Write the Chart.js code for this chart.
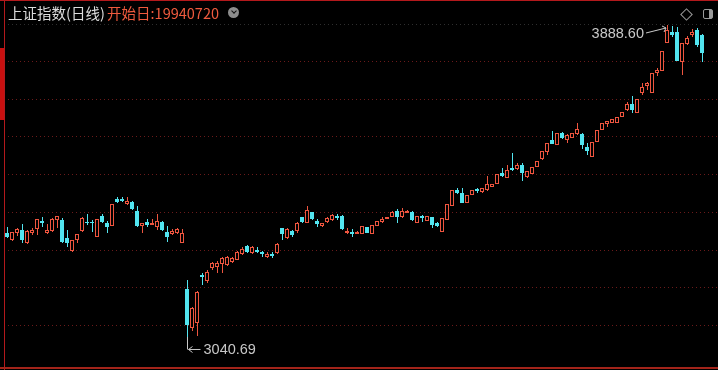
<!DOCTYPE html>
<html>
<head>
<meta charset="utf-8">
<script src="https://cdn.jsdelivr.net/npm/chart.js@4.4.1/dist/chart.umd.min.js"></script>
<style>
  html, body { margin: 0; padding: 0; background: #000; }
  #wrap { position: relative; width: 718px; height: 370px; overflow: hidden; }
  #title { position: absolute; left: 8px; top: 3px; font: 14.5px "Noto Sans CJK SC", sans-serif; line-height: 19px; color: #dcdcdc; white-space: nowrap; }
  #title .start { color: #ef5a3e; margin-left: -1px; }
  #drop { position: absolute; left: 228px; top: 7px; width: 11px; height: 11px; border-radius: 50%; background: #8d8d8d; }
  #drop:after { content: ''; position: absolute; left: 3.5px; top: 2px; width: 3px; height: 3px; border-right: 1.5px solid #111; border-bottom: 1.5px solid #111; transform: rotate(45deg); }
  #diamond { position: absolute; left: 682px; top: 10px; width: 7px; height: 7px; border: 1px solid #9a9a9a; transform: rotate(45deg); }
  #panel { position: absolute; left: 703px; top: 9px; width: 8px; height: 8px; border: 1px solid #9a9a9a; border-radius: 2px; }
  #panel:after { content: ''; position: absolute; right: 0; top: 0; width: 3px; height: 8px; background: #9a9a9a; }
</style>
</head>
<body>
<div id="wrap">
  <canvas id="kline" width="718" height="370"></canvas>
  <div id="title">上证指数(日线) <span class="start">开始日:19940720</span></div>
  <div id="drop"></div>
  <div id="diamond"></div>
  <div id="panel"></div>
</div>
<script>
// daily candles, oldest first
var opens = [
	3323.3, 3304.2, 3323.3, 3331.4, 3296.1, 3323.3, 3334.2, 3355.9, 3323.3, 3328.7,
	3358.6, 3358.6, 3309.7, 3274.3, 3304.2, 3328.7, 3353.2, 3353.2, 3312.4, 3369.5,
	3350.5, 3342.3, 3415.7, 3415.7, 3402.1, 3407.5, 3383.1, 3342.3, 3353.2, 3345.0,
	3339.6, 3353.2, 3326.0, 3320.6, 3323.3, 3296.1, 3171.0, 3064.9, 3078.6, 3209.1,
	3192.8, 3228.1, 3230.8, 3239.0, 3236.3, 3244.4, 3249.9, 3266.2, 3287.9, 3268.9,
	3277.1, 3271.6, 3258.0, 3266.2, 3268.9, 3336.9, 3309.7, 3328.7, 3328.7, 3366.8,
	3350.5, 3380.4, 3355.9, 3342.3, 3353.2, 3358.6, 3369.5, 3369.5, 3323.3, 3326.0,
	3320.6, 3320.6, 3339.6, 3320.6, 3342.3, 3353.2, 3361.3, 3366.8, 3383.1, 3366.8,
	3377.6, 3380.4, 3350.5, 3369.5, 3355.9, 3366.8, 3350.5, 3326.0, 3358.6, 3396.7,
	3440.2, 3432.0, 3404.8, 3426.6, 3442.9, 3434.7, 3440.2, 3448.3, 3456.4, 3486.3,
	3472.7, 3499.9, 3497.2, 3508.1, 3475.4, 3483.6, 3502.6, 3524.4, 3543.4, 3576.0,
	3562.4, 3595.1, 3576.0, 3581.5, 3592.3, 3592.3, 3557.0, 3529.8, 3570.6, 3603.2,
	3619.5, 3622.2, 3622.2, 3638.5, 3657.5, 3673.9, 3649.4, 3703.7, 3722.8, 3703.7,
	3758.1, 3763.5, 3839.6, 3869.5, 3869.5, 3788.0, 3836.9, 3861.4, 3875.0, 3861.4
];
var highs = [
	3339.6, 3326.0, 3336.9, 3347.7, 3331.4, 3336.9, 3361.3, 3366.8, 3347.7, 3364.1,
	3369.5, 3364.1, 3331.4, 3304.2, 3320.6, 3366.8, 3374.9, 3358.6, 3361.3, 3374.9,
	3355.9, 3402.1, 3421.1, 3421.1, 3421.1, 3410.3, 3396.7, 3350.5, 3361.3, 3361.3,
	3374.9, 3355.9, 3342.3, 3334.2, 3336.9, 3334.2, 3195.5, 3122.0, 3165.6, 3214.5,
	3222.7, 3244.4, 3247.2, 3258.0, 3260.7, 3258.0, 3274.3, 3285.2, 3290.7, 3287.9,
	3285.2, 3274.3, 3271.6, 3271.6, 3296.1, 3336.9, 3336.9, 3331.4, 3353.2, 3366.8,
	3396.7, 3380.4, 3361.3, 3350.5, 3366.8, 3374.9, 3374.9, 3372.2, 3336.9, 3334.2,
	3328.7, 3342.3, 3339.6, 3345.0, 3355.9, 3366.8, 3366.8, 3383.1, 3388.5, 3391.2,
	3385.8, 3383.1, 3369.5, 3372.2, 3369.5, 3366.8, 3353.2, 3364.1, 3402.1, 3440.2,
	3445.6, 3445.6, 3426.6, 3440.2, 3445.6, 3445.6, 3478.2, 3456.4, 3483.6, 3499.9,
	3508.1, 3540.7, 3513.5, 3513.5, 3491.8, 3502.6, 3518.9, 3546.1, 3567.9, 3600.5,
	3595.1, 3597.8, 3592.3, 3595.1, 3622.2, 3595.1, 3567.9, 3570.6, 3603.2, 3622.2,
	3627.7, 3633.1, 3638.5, 3652.1, 3679.3, 3695.6, 3687.5, 3730.9, 3733.6, 3758.1,
	3771.7, 3817.9, 3888.60, 3886.0, 3883.1, 3839.6, 3858.7, 3877.7, 3880.4, 3864.1
];
var lows = [
	3309.7, 3301.5, 3315.1, 3296.1, 3293.4, 3317.8, 3317.8, 3339.6, 3320.6, 3326.0,
	3336.9, 3296.1, 3285.2, 3271.6, 3296.1, 3326.0, 3345.0, 3326.0, 3312.4, 3350.5,
	3323.3, 3342.3, 3404.8, 3407.5, 3399.4, 3385.8, 3339.6, 3323.3, 3339.6, 3345.0,
	3331.4, 3328.7, 3298.8, 3317.8, 3320.6, 3296.1, 3040.69, 3056.8, 3043.4, 3181.9,
	3187.4, 3222.7, 3214.5, 3214.5, 3233.6, 3241.7, 3249.9, 3263.5, 3268.9, 3266.2,
	3268.9, 3258.0, 3255.3, 3255.3, 3266.2, 3304.2, 3307.0, 3312.4, 3323.3, 3350.5,
	3350.5, 3358.6, 3339.6, 3339.6, 3350.5, 3355.9, 3358.6, 3331.4, 3320.6, 3312.4,
	3320.6, 3320.6, 3323.3, 3320.6, 3342.3, 3350.5, 3361.3, 3366.8, 3350.5, 3364.1,
	3377.6, 3355.9, 3350.5, 3353.2, 3355.9, 3336.9, 3339.6, 3326.0, 3358.6, 3396.7,
	3429.3, 3404.8, 3404.8, 3426.6, 3432.0, 3432.0, 3437.4, 3448.3, 3456.4, 3475.4,
	3472.7, 3491.8, 3494.5, 3464.6, 3472.7, 3483.6, 3502.6, 3521.7, 3535.2, 3565.2,
	3562.4, 3578.8, 3567.9, 3581.5, 3589.6, 3551.6, 3535.2, 3529.8, 3570.6, 3603.2,
	3611.4, 3622.2, 3622.2, 3638.5, 3654.8, 3649.4, 3649.4, 3698.3, 3711.9, 3703.7,
	3750.0, 3763.5, 3839.6, 3855.9, 3790.7, 3752.7, 3834.2, 3855.9, 3828.8, 3788.0
];
var closes = [
	3312.4, 3326.0, 3334.2, 3304.2, 3328.7, 3331.4, 3361.3, 3350.5, 3331.4, 3361.3,
	3369.5, 3298.8, 3296.1, 3304.2, 3320.6, 3364.1, 3350.5, 3350.5, 3361.3, 3353.2,
	3339.6, 3402.1, 3407.5, 3410.3, 3410.3, 3388.5, 3342.3, 3350.5, 3345.0, 3350.5,
	3355.9, 3331.4, 3312.4, 3328.7, 3334.2, 3323.3, 3073.2, 3119.4, 3162.9, 3203.7,
	3217.3, 3241.7, 3241.7, 3255.3, 3258.0, 3255.3, 3271.6, 3279.8, 3271.6, 3285.2,
	3271.6, 3266.2, 3266.2, 3260.7, 3293.4, 3320.6, 3334.2, 3317.8, 3350.5, 3353.2,
	3385.8, 3361.3, 3347.7, 3350.5, 3364.1, 3372.2, 3364.1, 3334.2, 3328.7, 3320.6,
	3326.0, 3342.3, 3323.3, 3345.0, 3355.9, 3361.3, 3366.8, 3380.4, 3366.8, 3383.1,
	3383.1, 3358.6, 3369.5, 3364.1, 3369.5, 3345.0, 3342.3, 3364.1, 3402.1, 3440.2,
	3432.0, 3404.8, 3426.6, 3440.2, 3437.4, 3445.6, 3456.4, 3456.4, 3483.6, 3478.2,
	3494.5, 3494.5, 3508.1, 3486.3, 3491.8, 3502.6, 3518.9, 3546.1, 3567.9, 3565.2,
	3595.1, 3581.5, 3589.6, 3595.1, 3605.9, 3562.4, 3546.1, 3570.6, 3603.2, 3622.2,
	3627.7, 3633.1, 3638.5, 3652.1, 3673.9, 3657.5, 3687.5, 3720.1, 3730.9, 3758.1,
	3766.3, 3817.9, 3875.0, 3861.4, 3790.7, 3839.6, 3853.2, 3869.5, 3834.2, 3812.5
];

var upColor = '#ee553f';
var downColor = '#52e5f0';
var gridColor = '#6a1a1a';
var frameColor = '#b3191c';
var labelColor = '#c8c8c8';
var yMin = 2970, yMax = 3891.3;

var isUp = function(i) {
	return closes[i] >= opens[i];
};

var bodyData = opens.map(function(o, i) { return { x: i, y: [o, closes[i]] }; });
var wickData = highs.map(function(h, i) { return { x: i, y: [lows[i], h] }; });

// frame lines, half pixel shift for wicks, high/low markers
var klinePlugin = {
	id: 'kline',
	beforeDraw: function(chart) {
		var ctx = chart.ctx;
		ctx.save();
		ctx.fillStyle = '#000';
		ctx.fillRect(0, 0, chart.width, chart.height);
		ctx.restore();
	},
	beforeDatasetDraw: function(chart, args) {
		if (args.index === 1) {
			chart.ctx.save();
			chart.ctx.translate(0.5, 0);
		}
	},
	afterDatasetDraw: function(chart, args) {
		if (args.index === 1) {
			chart.ctx.restore();
		}
	},
	afterDraw: function(chart) {
		var ctx = chart.ctx;
		var xs = chart.scales.x, ys = chart.scales.y;
		ctx.save();
		ctx.fillStyle = frameColor;
		ctx.fillRect(0, 0, chart.width, 1);
		ctx.fillRect(4, 0, 1, chart.height);
		ctx.fillStyle = '#a3241a';
		ctx.fillRect(0, 367, chart.width, 2);
		ctx.fillStyle = '#c81010';
		ctx.fillRect(0, 48, 4, 72);

		ctx.strokeStyle = labelColor;
		ctx.fillStyle = labelColor;
		ctx.lineWidth = 1;
		ctx.font = '14.5px "Liberation Sans", Arial, sans-serif';
		ctx.textBaseline = 'middle';

		var hi = highs.indexOf(Math.max.apply(null, highs));
		var hx = Math.round(xs.getPixelForValue(hi));
		var hy = ys.getPixelForValue(highs[hi]);
		ctx.beginPath();
		ctx.moveTo(hx - 21, hy + 8);
		ctx.lineTo(hx - 1, hy + 3);
		ctx.moveTo(hx - 1, hy + 3);
		ctx.lineTo(hx - 5, hy + 1);
		ctx.moveTo(hx - 1, hy + 3);
		ctx.lineTo(hx - 3, hy + 7);
		ctx.stroke();
		ctx.textAlign = 'right';
		ctx.fillText(highs[hi].toFixed(2), hx - 23, hy + 9);

		var lo = lows.indexOf(Math.min.apply(null, lows));
		var lx = Math.round(xs.getPixelForValue(lo)) + 0.5;
		var ly = ys.getPixelForValue(lows[lo]);
		ctx.beginPath();
		ctx.moveTo(lx, ly);
		ctx.lineTo(lx, ly + 12.5);
		ctx.moveTo(lx + 1, ly + 12.5);
		ctx.lineTo(lx + 13, ly + 12.5);
		ctx.moveTo(lx + 1, ly + 12.5);
		ctx.lineTo(lx + 5, ly + 9.5);
		ctx.moveTo(lx + 1, ly + 12.5);
		ctx.lineTo(lx + 5, ly + 15.5);
		ctx.stroke();
		ctx.textAlign = 'left';
		ctx.fillText(lows[lo].toFixed(2), lx + 16, ly + 13);
		ctx.restore();
	}
};

var ctx = document.getElementById('kline').getContext('2d');
var klineChart = new Chart(ctx, {
	type: 'bar',
	data: {
		datasets: [{
			label: 'body',
			data: bodyData,
			barThickness: 4,
			grouped: false,
			borderWidth: 1,
			borderSkipped: false,
			inflateAmount: 0,
			borderColor: opens.map(function(o, i) { return isUp(i) ? upColor : downColor; }),
			backgroundColor: opens.map(function(o, i) { return isUp(i) ? '#000' : downColor; })
		}, {
			label: 'wick',
			data: wickData,
			barThickness: 1,
			grouped: false,
			borderWidth: 0,
			borderSkipped: false,
			inflateAmount: 0,
			backgroundColor: opens.map(function(o, i) { return isUp(i) ? upColor : downColor; })
		}]
	},
	options: {
		responsive: false,
		animation: false,
		events: [],
		layout: { padding: { top: 24, bottom: 7, left: 0, right: 0 } },
		plugins: {
			legend: { display: false },
			tooltip: { enabled: false }
		},
		scales: {
			x: {
				type: 'linear',
				min: -0.6,
				max: 142.2,
				offset: false,
				grid: { offset: false },
				display: false
			},
			y: {
				min: yMin,
				max: yMax,
				afterFit: function(scale) { scale.width = 4; },
				afterBuildTicks: function(scale) {
					var t = [];
					for (var k = 0; k <= 9; k++) {
						t.push({ value: yMin + k * (yMax - yMin) / 9 });
					}
					scale.ticks = t;
				},
				ticks: { display: false },
				grid: {
					drawTicks: false,
					color: function(c) {
						if (c.index === 0) return 'rgba(0,0,0,0)';
						return c.index === 9 ? '#2e2e2e' : gridColor;
					}
				},
				border: { display: false, dash: [1, 3] }
			}
		}
	},
	plugins: [klinePlugin]
});
</script>
</body>
</html>
